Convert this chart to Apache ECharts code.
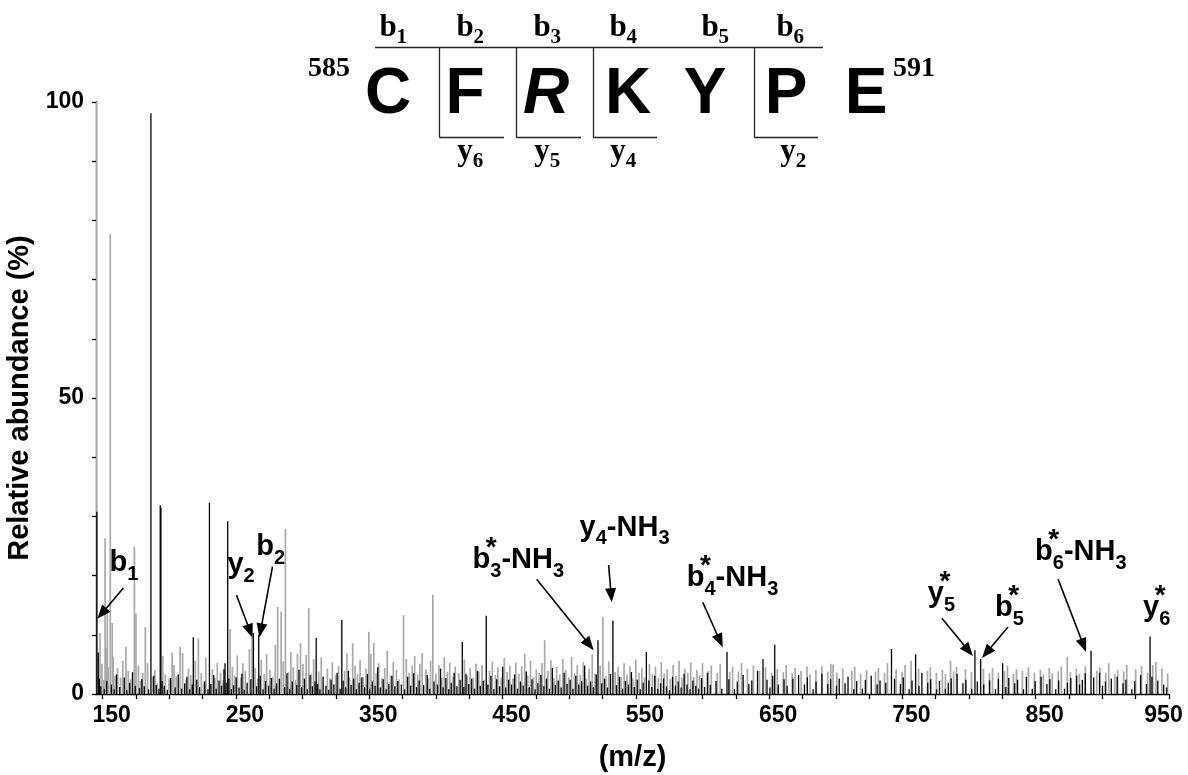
<!DOCTYPE html>
<html>
<head>
<meta charset="utf-8">
<script src="https://cdn.jsdelivr.net/npm/echarts@6/dist/echarts.min.js"></script>
<style>
  html, body { margin: 0; padding: 0; background: #ffffff; }
  #chart { width: 1188px; height: 775px; }
</style>
</head>
<body>
<div id="chart"></div>
<script>
// ---- axis ticks and labels ----
const xTickValues = [150,175,200,225,250,275,300,325,350,375,400,425,450,475,500,525,550,575,600,625,650,675,700,725,750,775,800,825,850,875,900,925,950];
const xLabelValues = [150,250,350,450,550,650,750,850,950];
const yLabelValues = [0,50,100];

// ---- spectrum A (grey sticks): [m/z, relative abundance %] ----
const greyMajor = [
  [145.4,100],[148.0,10.3],[151.8,26.3],[153.5,13.6],[155.7,77.7],[157.2,12.0],[167.5,8.0],
  [173.8,24.9],[175.0,13.6],[182.0,11.3],[202.1,7.0],[208.1,8.0],[221.8,9.4],[245.6,11.0],
  [262.1,9.7],[281.3,14.7],[283.9,13.9],[287.1,27.9],[296.1,6.8],[304.6,14.5],[337.6,8.6],
  [349.7,10.5],[353.4,8.6],[375.7,13.3],[389.7,6.9],[397.7,16.8],[481.6,9.1],[525.3,13.0],
  [698.0,5.0],[786.1,5.6],[873.7,6.3],[937.8,4.9]
];
const greyNoise = [
  [147,3.2],[149.5,5.1],[150.8,2.4],[152.6,7.8],[154.2,4.5],[157.9,6.2],[159.3,3.1],[161.2,4.4],[163.4,2.8],[165.1,5.6],
  [169.2,3.9],[171,2.5],[176.8,4.8],[178.3,2.2],[180,3.6],[183.7,5.2],[187.5,2.9],[189.2,4.1],[191,1.8],[195.1,6.4],
  [197,3.3],[199.8,2.6],[203.5,4.9],[205.2,3.0],[210,6.9],[212.6,2.4],[214.4,4.3],[216.1,3.2],[219.5,5.6],[224,3.5],
  [225.8,2.1],[227.4,6.1],[232.3,4.2],[234.2,2.7],[236,5.3],[238.5,3.6],[240.4,2.3],[247.3,4.6],[249.1,3.1],[251,6.5],
  [253.5,2.8],[255.2,5.2],[257,3.9],[260.1,7.6],[264.5,4.4],[266.3,2.6],[269,5.8],[271.2,3.4],[273,6.8],[275.4,4.1],
  [277.6,2.9],[279.5,8.3],[285.5,5.5],[289.4,3.7],[291.2,7.1],[293,4.5],[294.7,2.4],[298.4,8.6],[300.2,5.1],[302.6,6.6],
  [306.5,3.3],[308.3,5.9],[312.1,3.8],[314,6.2],[318.6,4.3],[320.5,2.6],[322.3,5.4],[324.8,3.2],[327,4.7],[331.5,3.9],
  [333.3,6.9],[335.2,2.8],[339.4,4.8],[341.2,3.4],[343.1,5.7],[345.5,2.9],[347.6,4.3],[351.2,6.8],[355.3,3.5],[357.1,5.2],
  [359.4,2.7],[361.6,4.4],[363.5,7.3],[366,3.1],[368,5.4],[370.4,4.1],[372.3,2.5],[377.8,5.9],[380,3.6],[382.2,4.8],
  [384.1,6.4],[386.3,3.3],[388,5.1],[392.5,4.2],[394.3,2.6],[396,5.6],[400,3.4],[402.2,4.9],[404.5,2.8],[406.3,6.2],
  [408.6,3.7],[410.4,5.3],[412.8,2.9],[414.5,4.6],[417.2,3.5],[421.4,5.8],[423.5,3.1],[425.7,4.4],[428,2.7],[430.1,5.1],
  [432.2,3.8],[434.6,4.9],[436,2.4],[440.2,3.9],[442.3,5.5],[444.7,3.2],[446.5,4.5],[449,2.8],[451.3,6.1],[453.4,3.7],
  [455.5,4.8],[457.8,2.6],[460,5.3],[462.2,3.4],[464.4,4.7],[466.7,6.8],[468.9,3.1],[471,5.6],[473.2,2.9],[475.3,4.2],
  [477.6,3.6],[479.6,5.2],[484,3.9],[486.3,5.7],[488.5,2.7],[490.6,4.6],[492.9,3.3],[495.2,5.9],[497.4,4.1],[499.6,2.8],
  [501.8,6.3],[504,3.5],[506.1,4.9],[508.4,3.2],[510.6,5.4],[512.7,2.6],[515,4.3],[517.3,6.7],[519.4,3.4],[523.3,4.8],
  [527.6,3.1],[529.8,5.5],[534.5,3.7],[536.7,4.6],[538.9,2.9],[541.2,5.2],[543.4,3.3],[545.6,4.7],[547.8,2.6],[550,5.8],
  [552.3,3.6],[554.5,4.4],[556.4,2.8],[560.2,5.1],[562.4,3.4],[564.7,4.6],[566.9,2.7],[569.1,5.4],[571.3,3.5],[573.5,4.2],
  [575.8,2.5],[578,4.9],[580.1,3.1],[582.4,5.6],[584.6,2.8],[586.8,4.3],[589,3.6],[591.2,5.3],[593.4,2.9],[595.7,4.1],
  [597.8,3.2],[600,5.2],[604.5,3.9],[606.6,4.8],[611.1,3.6],[613.3,5.1],[620.4,3.7],[622.6,4.6],[627,3.8],[629.3,5.2],
  [633.7,4.3],[638.2,4.8],[642.8,3.9],[647.3,4.5],[651.8,3.6],[656.1,4.2],[660.6,3.7],[662.8,4.9],[667.3,3.5],[669.5,4.4],
  [674,3.9],[678.4,4.6],[680.7,3.3],[685.1,4.1],[689.6,4.7],[694,3.8],[696.3,5.1],[700.8,3.6],[705.2,4.3],[712,3.9],
  [714.2,4.6],[718.6,3.4],[723.1,4.1],[729.8,3.8],[732,4.4],[736.6,3.6],[738.8,5.2],[745.3,4.2],[749.8,3.7],[752,4.9],
  [756.5,5.6],[762.1,4.3],[768.8,3.9],[771,4.5],[775.5,3.6],[780,4.1],[782.3,3.4],[788.4,3.8],[790.6,4.6],[797.3,4.2],
  [801.8,3.7],[810.8,4.3],[815.3,3.5],[817.6,4.4],[822,3.6],[826.6,3.9],[828.8,4.8],[833.3,3.4],[835.6,4.2],[840,3.9],
  [844.5,4.5],[849,3.6],[853.5,4.1],[855.7,3.3],[860.2,4.4],[862.4,3.5],[866.9,3.8],[869.2,4.6],[876,3.7],[880.5,4.3],
  [882.8,3.4],[887.2,4.7],[895.8,3.9],[898.1,4.5],[902.6,3.6],[904.8,5.2],[909.3,3.4],[911.5,4.1],[916,3.8],[918.3,4.9],
  [925,4.2],[929.4,4.7],[933.9,3.6],[940.2,5.4],[944.7,4.3],[949,3.5]
];

// ---- spectrum B (black sticks): [m/z, relative abundance %] ----
const blackMajor = [
  [145.6,30.8],[146.7,7.0],[186.2,98.1],[193.2,31.9],[193.7,31.5],[218.0,9.6],[230.1,32.3],[241.8,5.2],
  [243.8,29.2],[263.1,10.3],[267.1,10.0],[310.2,9.5],[329.4,12.5],[419.8,8.8],[437.8,13.2],[521.6,9.1],
  [532.8,12.4],[557.9,7.1],[618.4,7.1],[645.4,5.9],[654.2,8.3],[741.8,7.6],[759.9,6.7],[804.4,7.4],
  [808.7,5.9],[825.2,5.2],[891.5,7.3],[935.8,9.7]
];
const blackNoise = [
  [147.5,2.6],[148.6,1.3],[151.2,0.9],[153,2.2],[156.5,1.6],[158.6,0.8],[160.4,3.3],[162.8,1.2],[166.2,2.8],[168.1,0.7],
  [170.3,1.9],[172.4,3.7],[174.4,1.4],[177.6,1.0],[179.4,2.5],[181.2,1.3],[184.4,0.8],[188.3,3.1],[190.2,1.5],[192.2,0.9],
  [194.6,2.2],[196.2,1.4],[198.5,0.7],[201,2.7],[204.4,1.1],[206.7,3.3],[209.2,0.9],[211.5,1.8],[213.2,2.9],[215.3,0.8],
  [217.2,1.6],[220.6,2.4],[222.7,1.2],[226.6,2.1],[229,0.8],[231.2,1.7],[233.3,3.2],[235.2,0.9],[237.3,2.3],[239.2,1.4],
  [241,4.2],[242.6,1.9],[244.7,2.6],[246.5,0.8],[248.2,1.5],[250.2,2.8],[252.3,1.1],[254.4,3.4],[256.2,0.7],[258.4,1.9],
  [261.2,2.5],[265.5,1.3],[268.2,3.1],[270.3,0.8],[272.2,2.2],[274.5,1.4],[276.5,2.7],[278.6,0.9],[280.4,1.8],[282.6,2.6],
  [286.5,1.2],[288.3,3.5],[290.3,0.9],[292.2,2.1],[295.6,1.5],[297.3,4.1],[299.3,1.2],[301.4,2.6],[303.5,0.8],[305.6,3.2],
  [307.4,1.3],[309.3,2.1],[311.3,1.7],[313,0.8],[315.4,2.9],[317.5,1.4],[319.6,0.7],[321.4,2.4],[323.5,1.6],[325.9,3.6],
  [328.2,0.9],[330.4,2.3],[332.3,1.1],[334.4,3.9],[336.4,1.5],[338.3,2.6],[340.3,0.8],[342.4,1.9],[344.4,2.8],[346.5,1.2],
  [348.6,3.4],[350.3,0.9],[352.3,2.1],[354.4,1.4],[356.4,4.5],[358.3,1.1],[360.5,2.5],[362.6,0.8],[364.7,1.7],[367,3.1],
  [369.2,1.3],[371.4,2.2],[374.1,1.6],[376.5,0.8],[378.8,2.9],[381,1.4],[383.3,3.5],[385.5,1.2],[387.4,2.3],[390.8,1.5],
  [393.5,3.2],[395.4,0.9],[398.6,2.1],[401.2,1.6],[403.5,4.3],[405.4,1.1],[407.5,2.7],[409.6,0.8],[411.5,1.9],[413.7,3.6],
  [415.8,1.3],[418.2,2.4],[421,1.2],[422.6,3.4],[424.6,1.7],[426.8,2.6],[429,0.9],[431.2,3.9],[433.3,1.4],[435.5,2.2],
  [439,1.6],[441.3,3.1],[443.5,0.8],[445.6,2.5],[447.8,1.3],[450.1,4.6],[452.4,1.1],[454.6,2.4],[456.7,1.6],[459,3.3],
  [461.2,0.9],[463.4,2.1],[465.5,1.4],[467.8,3.8],[470,1.2],[472.1,2.5],[474.4,0.8],[476.5,1.8],[478.8,3.2],[481,1.3],
  [483,2.6],[485.2,0.9],[487.4,4.4],[489.6,1.5],[491.8,2.3],[494,1.1],[496.2,3.6],[498.4,1.7],[500.7,2.4],[502.8,0.9],
  [505,3.1],[507.2,1.6],[509.4,2.2],[511.6,4.8],[513.8,1.4],[516.1,2.1],[518.2,1.2],[520.3,3.3],[524.4,1.8],[526.5,2.6],
  [528.7,1.1],[531,3.4],[535.5,1.5],[537.7,2.9],[540,0.9],[542.2,2.2],[544.4,1.6],[546.7,3.7],[548.9,1.2],[551.1,2.4],
  [553.3,0.8],[555.5,1.9],[559.8,2.3],[562,1.2],[564.2,3.1],[566.4,0.9],[568.6,1.8],[570.8,2.6],[573,1.3],[575.2,0.7],
  [577.5,2.9],[579.7,1.4],[581.8,2.1],[584,1.1],[586.2,3.4],[588.4,1.6],[590.6,0.8],[592.8,2.3],[595,1.4],[597.1,0.9],
  [599.3,2.7],[601.6,1.2],[603.7,3.6],[605.9,1.5],[610.2,2.2],[614.5,0.9],[619.8,2.5],[624,0.8],[626.1,2.1],[630.5,3.2],
  [634.8,1.7],[637,2.3],[641.3,3.9],[648.4,2.4],[650.6,1.1],[652.7,3.1],[656.9,1.6],[661.2,2.5],[663.5,1.4],[667.8,2.6],
  [672.1,3.2],[676.5,1.6],[678.7,2.8],[683,0.8],[685.2,2.1],[689.6,3.4],[694,1.7],[696.1,2.5],[700.5,1.4],[702.6,2.6],
  [707,1.8],[709.2,2.9],[713.5,0.8],[715.7,2.2],[720,0.9],[722.2,2.4],[726.6,3.1],[731,1.6],[733.2,2.3],[737.5,1.9],
  [744.1,2.6],[748.5,1.7],[750.7,2.8],[755,0.8],[757.2,2.3],[762.4,1.4],[764.6,3.6],[769,1.9],[771.2,2.5],[775.6,0.8],
  [777.8,2.2],[782.2,0.9],[784.4,1.9],[786.6,2.6],[791,3.4],[795.4,1.8],[797.6,2.4],[802,0.9],[806.2,2.1],[811,1.6],
  [815.4,2.3],[819.8,0.8],[822,2.6],[827.6,1.2],[829.8,2.7],[834.2,1.8],[836.4,2.4],[840.8,0.8],[843,2.9],[847.4,0.9],
  [849.6,2.2],[854,2.9],[858.4,1.7],[860.6,2.5],[865,0.8],[867.2,2.3],[871.6,0.9],[873.8,1.9],[876.3,2.7],[880.7,3.1],
  [882.9,1.6],[885,2.4],[887.2,3.5],[893.5,2.8],[897.9,3.6],[900.1,1.4],[902.3,2.1],[906.7,2.6],[911.1,2.9],[915.5,1.8],
  [917.7,2.4],[922.1,0.8],[924.3,2.2],[928.7,3.2],[933.1,1.7],[937.2,2.9],[941.6,2.3],[946,1.6],[948.2,1.1]
];

// ---- fragment-ion annotations (text pieces; anchor = left/baseline in data units) ----
const ionTexts = [
  [{t:'b'},{t:'1',sub:true}],
  [{t:'y'},{t:'2',sub:true}],
  [{t:'b'},{t:'2',sub:true}],
  [{t:'b'},{t:'3',sub:true,star:true},{t:'-NH'},{t:'3',sub:true}],
  [{t:'y'},{t:'4',sub:true},{t:'-NH'},{t:'3',sub:true}],
  [{t:'b'},{t:'4',sub:true,star:true},{t:'-NH'},{t:'3',sub:true}],
  [{t:'y'},{t:'5',sub:true,star:true}],
  [{t:'b'},{t:'5',sub:true,star:true}],
  [{t:'b'},{t:'6',sub:true,star:true},{t:'-NH'},{t:'3',sub:true}],
  [{t:'y'},{t:'6',sub:true,star:true}]
];
const ionAnchors = [
  [155.1,20.4],[243.6,20.1],[265.3,23.1],[427.5,20.9],[507.8,26.4],
  [588.2,17.9],[769.1,15.2],[819.4,12.8],[849.5,22.3],[930.5,12.8]
];
// arrows: [from m/z, from %, to m/z, to %]; null = no arrow
const ionArrows = [
  [165.5,17.9,146.0,12.7],[250.4,16.7,262.4,9.5],[277.4,21.5,267.6,9.6],[475.6,19.4,518.4,7.4],
  [529.6,21.8,531.9,15.5],[600.2,15.5,615.2,7.9],[779.6,12.8,802.9,6.4],[829.2,11.3,809.7,6.1],
  [866.8,19.4,887.8,7.1],null
];

// ---- peptide sequence header ----
const residues = ['C','F','R','K','Y','P','E'];
const startResidue = '585';
const endResidue = '591';
const bIons = ['1','2','3','4','5','6'];
const yIons = ['6','5','4','2'];

const SANS = '"Liberation Sans", Arial, Helvetica, sans-serif';
const SERIF = '"Liberation Serif", "Times New Roman", serif';
const measureCtx = document.createElement('canvas').getContext('2d');
function textWidth(t, size, family, style) {
  measureCtx.font = (style || '') + ' bold ' + size + 'px ' + family;
  return measureCtx.measureText(t).width;
}

const chart = echarts.init(document.getElementById('chart'), null, { renderer: 'canvas' });

function stickRenderer(color, width) {
  return function (params, api) {
    const x = api.value(0);
    const p0 = api.coord([x, 0]);
    const p1 = api.coord([x, api.value(1)]);
    return {
      type: 'line',
      shape: { x1: p0[0], y1: p0[1], x2: p1[0], y2: p1[1] },
      style: { stroke: color, lineWidth: width }
    };
  };
}

// annotation label + arrow, laid out from the anchor in data space
const MAIN = 29, SUB = 20, SUB_DROP = 8, MID_K = 0.3465;
function ionRenderer(params, api) {
  const i = params.dataIndex;
  const children = [];
  const org = api.coord(ionAnchors[i]);
  let x = org[0];
  const base = org[1];
  ionTexts[i].forEach(function (p) {
    const size = p.sub ? SUB : MAIN;
    const yb = p.sub ? base + SUB_DROP : base;
    children.push({
      type: 'text',
      style: { text: p.t, x: x, y: yb - MID_K * size, fill: '#000', fontSize: size, fontWeight: 'bold',
               fontFamily: SANS, align: 'left', verticalAlign: 'middle' }
    });
    if (p.star) {
      children.push({
        type: 'text',
        style: { text: '*', x: x + 1, y: base - 22, fill: '#000', fontSize: 28, fontWeight: 'bold',
                 fontFamily: SANS, align: 'center', verticalAlign: 'middle' }
      });
    }
    x += textWidth(p.t, size, SANS);
  });
  const a = ionArrows[i];
  if (a) {
    const s = api.coord([a[0], a[1]]);
    const e = api.coord([a[2], a[3]]);
    const dx = e[0] - s[0], dy = e[1] - s[1];
    const len = Math.sqrt(dx * dx + dy * dy);
    const ux = dx / len, uy = dy / len;
    const hl = 14, hw = 5.5;
    const bx = e[0] - ux * hl, by = e[1] - uy * hl;
    children.push({
      type: 'line',
      shape: { x1: s[0], y1: s[1], x2: bx + ux * 2, y2: by + uy * 2 },
      style: { stroke: '#000', lineWidth: 1.6 }
    });
    children.push({
      type: 'polygon',
      shape: { points: [[e[0], e[1]], [bx - uy * hw, by + ux * hw], [bx + uy * hw, by - ux * hw]] },
      style: { fill: '#000' }
    });
  }
  return { type: 'group', children: children };
}

// peptide header graphics (fixed layout above the plot)
const residueX = [388, 465, 546, 628, 705, 786, 866];
const bX = [388, 465, 542, 618, 710, 785];
const yX = [465, 542, 618, 788];
const boxX = [[439, 504], [516, 581], [593, 657], [754, 818]];
const header = [];
function serifWithSub(main, sub, cx, baseline) {
  const w1 = textWidth(main, 31, SERIF);
  const left = cx - w1 / 2;
  header.push({ type: 'text', style: { text: main, x: left, y: baseline - 0.3375 * 31, fill: '#000',
    fontSize: 31, fontWeight: 'bold', fontFamily: SERIF, align: 'left', verticalAlign: 'middle' } });
  header.push({ type: 'text', style: { text: sub, x: left + w1, y: baseline + 7 - 0.3375 * 21, fill: '#000',
    fontSize: 21, fontWeight: 'bold', fontFamily: SERIF, align: 'left', verticalAlign: 'middle' } });
}
residues.forEach(function (r, k) {
  header.push({ type: 'text', style: { text: r, x: residueX[k], y: 118 - 0.3465 * 64, fill: '#000',
    fontSize: 64, fontWeight: 'bold', fontStyle: r === 'R' ? 'italic' : 'normal', fontFamily: SANS,
    align: 'center', verticalAlign: 'middle' } });
});
header.push({ type: 'text', style: { text: startResidue, x: 350, y: 78 - 0.3375 * 28, fill: '#000',
  fontSize: 28, fontWeight: 'bold', fontFamily: SERIF, align: 'right', verticalAlign: 'middle' } });
header.push({ type: 'text', style: { text: endResidue, x: 893, y: 78 - 0.3375 * 28, fill: '#000',
  fontSize: 28, fontWeight: 'bold', fontFamily: SERIF, align: 'left', verticalAlign: 'middle' } });
bIons.forEach(function (n, k) { serifWithSub('b', n, bX[k], 38); });
yIons.forEach(function (n, k) { serifWithSub('y', n, yX[k], 162); });
header.push({ type: 'line', shape: { x1: 375, y1: 47.5, x2: 823, y2: 47.5 }, style: { stroke: '#222', lineWidth: 1.3 } });
boxX.forEach(function (b) {
  header.push({ type: 'line', shape: { x1: b[0] + 0.5, y1: 47.5, x2: b[0] + 0.5, y2: 137.5 }, style: { stroke: '#222', lineWidth: 1.3 } });
  header.push({ type: 'line', shape: { x1: b[0] + 0.5, y1: 137.5, x2: b[1], y2: 137.5 }, style: { stroke: '#222', lineWidth: 1.3 } });
});

const tickFont = { fontSize: 23, fontWeight: 'bold', fontFamily: SANS, color: '#000' };
const lastX = xLabelValues[xLabelValues.length - 1];

const option = {
  backgroundColor: '#ffffff',
  animation: false,
  grid: { left: 96, right: 19, top: 102, bottom: 81, containLabel: false, outerBoundsMode: 'none' },
  xAxis: {
    type: 'value', min: 145, max: 950,
    name: '(m/z)', nameLocation: 'middle', nameGap: 49,
    nameTextStyle: { fontSize: 29, fontWeight: 'bold', fontFamily: SANS, color: '#000' },
    axisLine: { lineStyle: { color: '#000', width: 1.3 } },
    axisTick: { show: true, inside: false, length: 5, customValues: xTickValues, lineStyle: { color: '#000', width: 1.3 } },
    axisLabel: {
      customValues: xLabelValues, margin: 10,
      formatter: function (v) { return v === lastX ? '{e|' + v + '}' : '{n|' + v + '}'; },
      rich: {
        n: Object.assign({ padding: [0, 0, 0, 18] }, tickFont),
        e: Object.assign({ padding: [0, 11, 0, 0] }, tickFont)
      }
    },
    splitLine: { show: false }
  },
  yAxis: {
    type: 'value', min: 0, max: 100, interval: 10,
    name: 'Relative abundance (%)', nameLocation: 'middle', nameGap: 53, nameRotate: 90,
    nameTextStyle: { fontSize: 29, fontWeight: 'bold', fontFamily: SANS, color: '#000' },
    axisLine: { show: true, lineStyle: { color: '#000', width: 1.3 } },
    axisTick: { show: true, inside: false, length: 4, lineStyle: { color: '#000', width: 1.3 } },
    axisLabel: Object.assign({ customValues: yLabelValues, margin: 12 }, tickFont),
    splitLine: { show: false }
  },
  graphic: header,
  series: [
    { type: 'custom', name: 'grey', renderItem: stickRenderer('#a9a9a9', 1.7), encode: { x: 0, y: 1 },
      data: greyNoise.concat(greyMajor), clip: true, silent: true, z: 2 },
    { type: 'custom', name: 'black', renderItem: stickRenderer('#000000', 1.3), encode: { x: 0, y: 1 },
      data: blackNoise.concat(blackMajor), clip: true, silent: true, z: 3 },
    { type: 'custom', name: 'ions', renderItem: ionRenderer, encode: { x: 0, y: 1 },
      data: ionAnchors, clip: false, silent: true, z: 5 }
  ]
};
chart.setOption(option);
</script>
</body>
</html>
